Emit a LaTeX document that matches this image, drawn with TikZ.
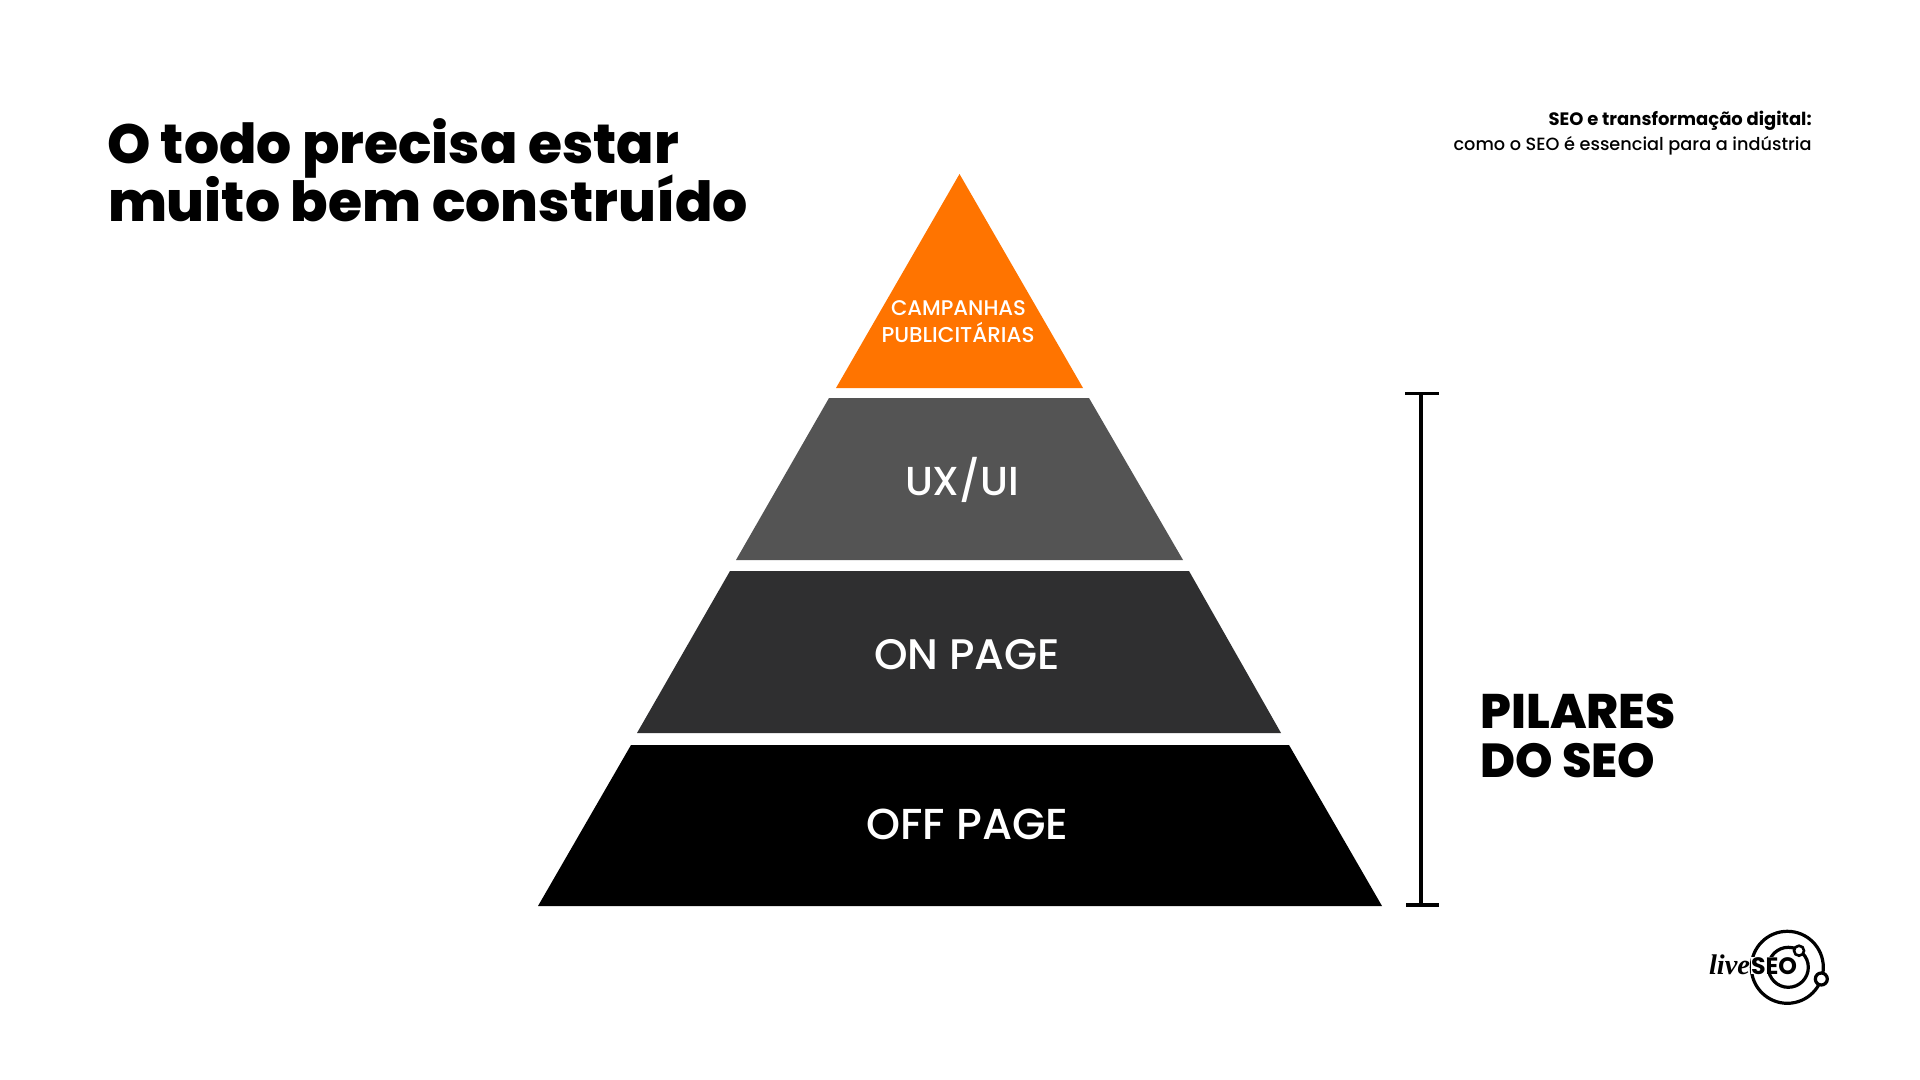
\documentclass[tikz,border=0pt]{standalone}
\usepackage{fontspec}
\usepackage{graphicx}
\setmainfont{Poppins}
\newfontfamily\logofont{Liberation Serif}
\newfontfamily\medfont{Poppins Medium}
\newfontfamily\xbfont{Poppins ExtraBold}
\definecolor{orangetop}{HTML}{FF7400}
\definecolor{greyux}{HTML}{545454}
\definecolor{greyon}{HTML}{2F2F30}
\newcommand{\fitw}[3]{\resizebox{#1pt}{!}{\fontsize{#2}{#2}\selectfont #3}}
\tikzset{
  lbl/.style={inner sep=0pt,outer sep=0pt,anchor=base west},
  wht/.style={lbl,text=white},
  layer/.style={draw=none},
  barline/.style={draw=black,line width=1.6pt},
  ring/.style={circle,draw=black,line width=1.6pt,inner sep=0pt}
}
\begin{document}
\begin{tikzpicture}[x=0.5pt,y=-0.5pt]
\useasboundingbox (0,0) rectangle (1920,1080);
\fill[white] (0,0) rectangle (1920,1080);
% pyramid
\fill[layer,fill=orangetop] (959.5,174) -- (1083,388) -- (836,388) -- cycle;
\fill[layer,fill=greyux] (829,398) -- (1089,398) -- (1183,560) -- (736,560) -- cycle;
\fill[layer,fill=greyon] (730,571) -- (1189,571) -- (1281,733) -- (637,733) -- cycle;
\fill[layer,fill=black] (631,745) -- (1289,745) -- (1382,906) -- (538,906) -- cycle;
% pyramid labels
\node[wht] (campanhas) at (891,316) {\fitw{67.5}{10}{\medfont CAMPANHAS}};
\node[wht] (publi) at (881.5,343) {\fitw{76.5}{10}{\medfont PUBLICITÁRIAS}};
\node[wht] (ux) at (905,495.5) {\fitw{57}{20}{\medfont UX/UI}};
\node[wht] (on) at (874,669.5) {\fitw{93}{20}{\medfont ON PAGE}};
\node[wht] (off) at (866.5,839.5) {\fitw{101}{20}{\medfont OFF PAGE}};
% title
\node[lbl] (t1) at (107,163.5) {\fitw{286}{30}{\xbfont O todo precisa estar}};
\node[lbl] (t2) at (108,222) {\fitw{320}{30}{\xbfont muito bem construído}};
% top right
\node[inner sep=0pt,anchor=base east] (s1) at (1812,126) {\fitw{131.5}{9}{\bfseries SEO e transformação digital:}};
\node[inner sep=0pt,anchor=base east] (s2) at (1812,151) {\fitw{179}{9}{\medfont como o SEO é essencial para a indústria}};
% bracket
\coordinate (btop) at (1421,393);
\coordinate (bbot) at (1421,905);
\coordinate (btl) at (1405,393.5);
\coordinate (btr) at (1439,393.5);
\coordinate (bbl) at (1406,905);
\coordinate (bbr) at (1439,905);
\draw[barline] (btop) -- (bbot);
\draw[barline] (btl) -- (btr);
\draw[barline] (bbl) -- (bbr);
% side label
\node[lbl] (p1) at (1480.5,728.5) {\fitw{97.5}{22}{\xbfont PILARES}};
\node[lbl] (p2) at (1480.5,777) {\fitw{87.5}{22}{\xbfont DO SEO}};
% logo
\node[ring,minimum size=36pt] (outer) at (1787.3,967.3) {};
\node[ring,minimum size=20pt] (inner) at (1788.3,967.3) {};
\node[lbl,fill=white] (seo) at (1751,974) {\fitw{23}{10}{\bfseries SEO}};
\node[lbl] (live) at (1709,974) {\fitw{20.5}{11}{\logofont\bfseries\itshape live}};
\node[ring,fill=white,line width=1.3pt,minimum size=5pt] (pl1) at (1799,950.7) {};
\node[ring,fill=white,minimum size=6pt] (pl2) at (1821.3,979) {};
\end{tikzpicture}
\end{document}
